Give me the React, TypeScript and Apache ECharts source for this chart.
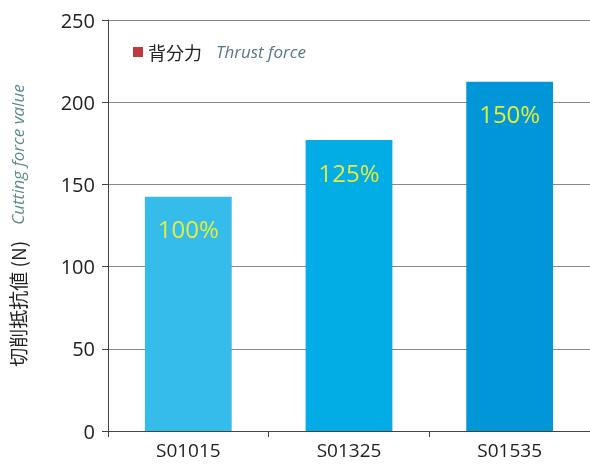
import React, { useEffect, useRef } from "react";
import * as echarts from "echarts";

const categories = ["S01015", "S01325", "S01535"];
const values = [142.5, 177, 212.5];
const percentLabels = ["100%", "125%", "150%"];
const barColors = ["#35BCEB", "#02ACE5", "#0096D8"];
const yTicks = { min: 0, max: 250, interval: 50 };

export default function App() {
  const ref = useRef<HTMLDivElement>(null);
  useEffect(() => {
    const chart = echarts.init(ref.current!, null, { renderer: "svg" });
    const font = "'Open Sans', 'Noto Sans', 'Noto Sans CJK JP', sans-serif";
    chart.setOption({
      animation: false,
      textStyle: { fontFamily: font },
      grid: { left: 108, right: 0, top: 20, bottom: 34 },
      legend: {
        left: 128,
        top: 38,
        icon: "rect",
        itemWidth: 10,
        itemHeight: 10,
        itemGap: 5,
        data: ["背分力"],
        formatter: () => "{a|背分力}{b|Thrust force}",
        textStyle: {
          rich: {
            a: { fontSize: 18, color: "#222", fontFamily: "'Noto Sans CJK JP', sans-serif", padding: [0, 14, 0, 0] },
            b: { fontSize: 17, color: "#557788", fontStyle: "italic", fontFamily: font },
          },
        },
      },
      xAxis: {
        type: "category",
        data: categories,
        axisLine: { lineStyle: { color: "#444", width: 1 } },
        axisTick: { show: true, length: 6, lineStyle: { color: "#444" } },
        axisLabel: { fontSize: 19, color: "#222", margin: 9 },
      },
      yAxis: {
        type: "value",
        min: yTicks.min,
        max: yTicks.max,
        interval: yTicks.interval,
        axisLine: { show: true, lineStyle: { color: "#444" } },
        axisTick: { show: true, length: 6, lineStyle: { color: "#444" } },
        axisLabel: { fontSize: 20, color: "#222", margin: 13 },
        splitLine: { lineStyle: { color: "#888", width: 1 } },
        name: "{a|切削抵抗値 (N)}{b|Cutting force value}",
        nameLocation: "middle",
        nameRotate: 90,
        nameGap: 81,
        nameTextStyle: {
          rich: {
            a: { fontSize: 19, color: "#222", fontFamily: "'Noto Sans CJK JP', sans-serif", padding: [0, 16, 0, 0] },
            b: { fontSize: 17, color: "#5f8a8a", fontStyle: "italic", fontFamily: font },
          },
        },
      },
      series: [
        {
          name: "背分力",
          type: "bar",
          barWidth: "54%",
          itemStyle: { color: "#C0393F" },
          data: values.map((v, i) => ({
            value: v,
            itemStyle: { color: barColors[i] },
            label: { formatter: percentLabels[i] },
          })),
          label: {
            show: true,
            position: "insideTop",
            distance: 20,
            fontSize: 24,
            color: "#E6EC3A",
            fontFamily: font,
          },
        },
      ],
    });
    return () => chart.dispose();
  }, []);
  return (
    <div
      ref={ref}
      style={{ position: "fixed", left: 0, top: 0, width: 590, height: 465 }}
    />
  );
}
